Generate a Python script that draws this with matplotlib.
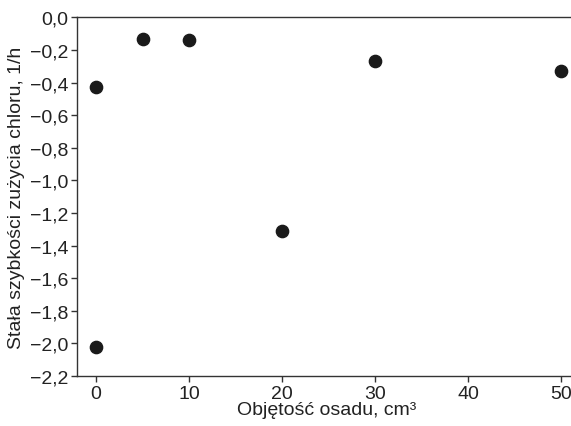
import matplotlib
matplotlib.use("Agg")
import matplotlib.pyplot as plt
from matplotlib.ticker import FuncFormatter

plt.rcParams['font.family'] = ['Liberation Sans', 'DejaVu Sans']

# dane
objetosc = [0, 0, 5, 10, 20, 30, 50]
stala = [-0.43, -2.02, -0.13, -0.14, -1.31, -0.27, -0.33]
y_ticks = [0.0, -0.2, -0.4, -0.6, -0.8, -1.0, -1.2, -1.4, -1.6, -1.8, -2.0, -2.2]
x_ticks = [0, 10, 20, 30, 40, 50]

kolor = '#333333'

fig = plt.figure(figsize=(5.71, 4.27), dpi=100)
ax = fig.add_axes([0.135, 0.117, 0.875, 0.84])

ax.scatter(objetosc, stala, s=78, color='#1a1a1a', zorder=3)

ax.set_xlim(-2.05, 51.7)
ax.set_ylim(-2.2, 0.0)
ax.set_xticks(x_ticks)
ax.set_yticks(y_ticks)
ax.yaxis.set_major_formatter(FuncFormatter(
    lambda v, p: f"{v:.1f}".replace('.', ',').replace('-', '\u2212')))

ax.spines['right'].set_visible(False)
for s in ['left', 'bottom', 'top']:
    ax.spines[s].set_color(kolor)
    ax.spines[s].set_linewidth(1.0)

ax.tick_params(direction='out', length=4.5, width=1, color=kolor,
               labelcolor='#222222', labelsize=14, pad=2)

ax.set_xlabel('Objętość osadu, cm³', fontsize=14, color='#222222', labelpad=-1)
ax.set_ylabel('Stała szybkości zużycia chloru, 1/h', fontsize=14, color='#222222', labelpad=3)

fig.savefig('out.png', dpi=100)
